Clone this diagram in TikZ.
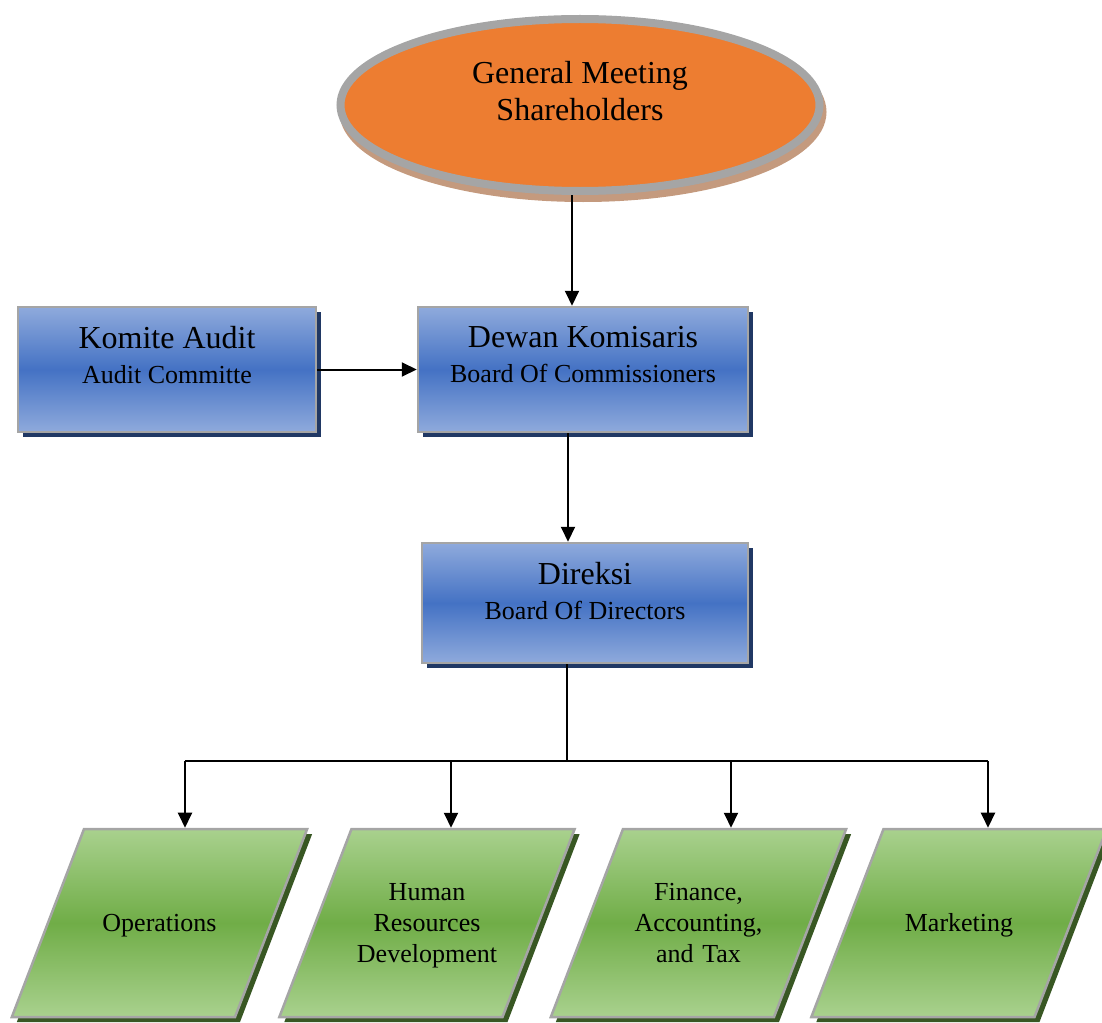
\documentclass[tikz,border=0pt]{standalone}
\usepackage{fontspec}
\setmainfont{Liberation Serif}
\usetikzlibrary{shapes.geometric,shadows,arrows.meta}

\definecolor{gmsorange}{HTML}{ED7D31}
\definecolor{gmsshadow}{HTML}{C49A7E}
\definecolor{rimgray}{HTML}{A5A5A5}
\definecolor{bluetop}{HTML}{8FAADC}
\definecolor{bluemid}{HTML}{4472C4}
\definecolor{blueshadow}{HTML}{203864}
\definecolor{greentop}{HTML}{A9D18E}
\definecolor{greenmid}{HTML}{70AD47}
\definecolor{greenshadow}{HTML}{385723}

% two-line label, lifted above the centre of its box
\newcommand{\orgtext}[4]{\raisebox{#1}[0pt][0pt]{\begin{tabular}{@{}c@{}}%
  \fontsize{32}{37}\selectfont #2\\[#4]\fontsize{26}{30}\selectfont #3\end{tabular}}}

\tikzset{
  meeting/.style={ellipse, draw=rimgray, line width=8pt, fill=gmsorange,
    minimum width=479pt, minimum height=172pt,
    drop shadow={shadow xshift=3pt, shadow yshift=-7pt, fill=gmsshadow,
      draw=gmsshadow, line width=8pt, opacity=1}},
  organ/.style={rectangle, draw=rimgray, line width=2.5pt,
    top color=bluetop, bottom color=bluetop, middle color=bluemid,
    drop shadow={shadow xshift=5pt, shadow yshift=-5pt, fill=blueshadow, opacity=1}},
  division/.style={trapezium, trapezium left angle=69, trapezium right angle=111,
    inner sep=0pt, text width=151pt, align=center,
    draw=rimgray, line width=2.5pt,
    top color=greentop, bottom color=greentop, middle color=greenmid,
    font=\fontsize{26}{31}\selectfont,
    drop shadow={shadow xshift=5pt, shadow yshift=-5pt, fill=greenshadow, opacity=1}},
  oneline/.style={text height=102.5pt, text depth=85.5pt},
  threeline/.style={text height=71.5pt, text depth=116.5pt},
  link/.style={line width=2pt, -{Triangle[length=15pt,width=14pt]}},
}

\begin{document}
\begin{tikzpicture}[x=1pt,y=-1pt, font=\fontsize{26}{30}\selectfont]
    \useasboundingbox (0,0) rectangle (1102,1022);

    % top of the organisation
    \node[meeting] (gms) at (580,105)
        {\orgtext{3pt}{General Meeting}{\fontsize{32}{37}\selectfont Shareholders}{6pt}};

    % boards
    \node[organ, minimum width=298pt, minimum height=125pt] (ka) at (167,369.5)
        {\orgtext{4pt}{Komite Audit}{Audit Committe}{5pt}};
    \node[organ, minimum width=330pt, minimum height=125pt] (dk) at (583,369.5)
        {\orgtext{4pt}{Dewan Komisaris}{Board Of Commissioners}{5pt}};
    \node[organ, minimum width=326pt, minimum height=120pt] (dir) at (585,603)
        {\orgtext{1pt}{Direksi}{Board Of Directors}{5pt}};

    % divisions
    \node[division, oneline] (ops) at (159.5,923) {Operations};
    \node[division, threeline] (hrd) at (427,923) {Human\\Resources\\Development};
    \node[division, threeline] (fat) at (698.5,923) {Finance,\\Accounting,\\and Tax};
    \node[division, oneline] (mkt) at (959,923) {Marketing};

    \coordinate (hub) at (567,761);
    \coordinate (j1) at (185,761);
    \coordinate (j2) at (451,761);
    \coordinate (j3) at (731,761);
    \coordinate (j4) at (988,761);

    \draw[link] ([xshift=-8pt]gms.south) -- ([xshift=-8pt]gms.south |- dk.north);
    \draw[link] (ka) -- (dk);
    \draw[link] ([xshift=-15pt]dk.south) -- ([xshift=-15pt]dk.south |- dir.north);
    \draw[line width=2pt] (dir.south -| hub) -- (hub);
    \draw[line width=2pt] (j1) -- (j4);
    \foreach \j/\d in {j1/ops, j2/hrd, j3/fat, j4/mkt}
        \draw[link] (\j) -- (\j |- \d.north);
\end{tikzpicture}
\end{document}
